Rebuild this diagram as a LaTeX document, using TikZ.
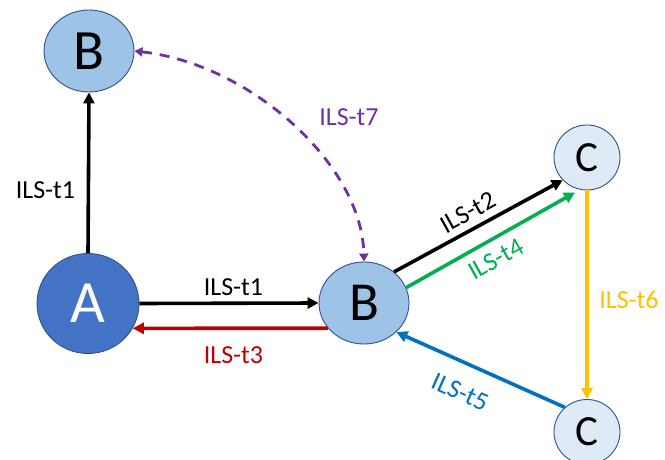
\documentclass[tikz,border=0pt]{standalone}
\usepackage{fontspec}
\setmainfont{Carlito}
\usetikzlibrary{arrows.meta,shapes.geometric,calc}
\definecolor{nodeblue}{HTML}{9DC3E6}
\definecolor{nodedark}{HTML}{4472C4}
\definecolor{nodepale}{HTML}{DEEBF7}
\definecolor{rimblue}{HTML}{2F528F}
\definecolor{cred}{HTML}{C00000}
\definecolor{cgreen}{HTML}{00B050}
\definecolor{cyellow}{HTML}{FFC000}
\definecolor{cblue}{HTML}{0070C0}
\definecolor{cpurple}{HTML}{7030A0}
\begin{document}
\begin{tikzpicture}[x=1pt,y=1pt,
  state/.style={ellipse, draw=rimblue, line width=0.9pt, inner sep=0pt},
  link/.style={line width=3.6pt, -{Triangle[length=11pt,width=11pt]}},
  lab/.style={font=\fontsize{26}{28}\selectfont, inner sep=0pt}]
\clip (0,0) rectangle (665,459);
\fill[white] (0,0) rectangle (665,459);

% states
\node[state, fill=nodeblue, minimum width=90pt, minimum height=82pt,
      font=\fontsize{57}{60}\selectfont] (Btop) at (89,408) {B};
\node[state, fill=nodedark, text=white, minimum width=102pt, minimum height=100pt,
      font=\fontsize{60}{64}\selectfont] (A) at (88,155.5) {A};
\node[state, fill=nodeblue, minimum width=90pt, minimum height=82pt,
      font=\fontsize{55}{58}\selectfont] (Bmid) at (364,156) {B};
\node[state, fill=nodepale, minimum width=66pt, minimum height=65pt,
      font=\fontsize{43}{46}\selectfont] (Ctop) at (587,301.5) {C};
\node[state, fill=nodepale, minimum width=66pt, minimum height=65pt,
      font=\fontsize{43}{46}\selectfont] (Cbot) at (587,27) {C};

% transitions
\draw[link] (A.north) -- (Btop.south);
\node[lab] (l1a) at (45.5,269) {ILS-t1};

\draw[link] (A.east) -- (Bmid.west);
\node[lab] (l1b) at (233.5,172) {ILS-t1};

\draw[link, cred] (Bmid.215) -- (A.331);
\node[lab, text=cred] (l3) at (233.5,104) {ILS-t3};

\draw[link] (Bmid.46) -- (Ctop.223);
\node[lab, rotate=29] (l2) at (468,246.5) {ILS-t2};

\coordinate (g4) at ($(Ctop.center)+(-12,-35)$);
\draw[link, cgreen] (Bmid.20) -- (g4);
\node[lab, rotate=29, text=cgreen] (l4) at (496,200) {ILS-t4};

\draw[link, cyellow, line width=3.2pt] (Ctop.south) -- (Cbot.north);
\node[lab, text=cyellow] (l6) at (629,159) {ILS-t6};

\draw[link, cblue] (Cbot.132) -- (Bmid.318);
\node[lab, rotate=-24, text=cblue] (l5) at (460,67) {ILS-t5};

\draw[cpurple, line width=2.8pt, dash pattern=on 10pt off 8pt,
      {Triangle[length=8pt,width=9pt]}-{Triangle[length=8pt,width=9pt]}]
  (Btop.east) .. controls (250,395) and (362,295) .. (Bmid.north);
\node[lab, text=cpurple] (l7) at (349,342) {ILS-t7};
\end{tikzpicture}
\end{document}
